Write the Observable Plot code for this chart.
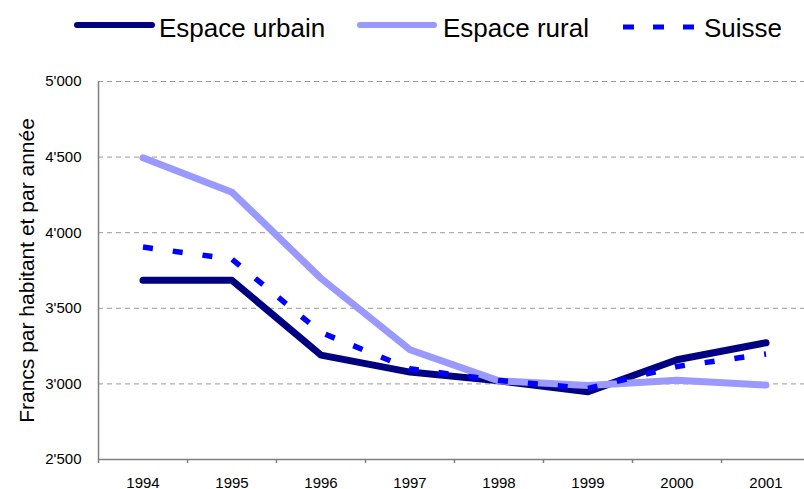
<!DOCTYPE html>
<html>
<head>
<meta charset="utf-8">
<script src="https://cdn.jsdelivr.net/npm/d3@7"></script>
<script src="https://cdn.jsdelivr.net/npm/@observablehq/plot@0.6"></script>
<style>
  html, body { margin: 0; padding: 0; background: #fff; }
  #legend { display: block; }
  #chart svg { display: block; }
</style>
</head>
<body>
<svg id="legend" width="804" height="58" font-family="Liberation Sans, Arial, sans-serif" font-size="26">
  <line x1="77" x2="152" y1="25" y2="25" stroke="#000080" stroke-width="6" stroke-linecap="round"/>
  <text x="159" y="37" fill="#000">Espace urbain</text>
  <line x1="360" x2="434" y1="25" y2="25" stroke="#9999FF" stroke-width="6" stroke-linecap="round"/>
  <text x="443" y="37" fill="#000">Espace rural</text>
  <line x1="623" x2="695" y1="27" y2="27" stroke="#0000FF" stroke-width="5" stroke-dasharray="11,19"/>
  <text x="704" y="37" fill="#000">Suisse</text>
</svg>
<div id="chart"></div>
<script>
const years = [1994, 1995, 1996, 1997, 1998, 1999, 2000, 2001];
const urbain = [3685, 3685, 3190, 3078, 3020, 2948, 3160, 3272];
const rural  = [4495, 4268, 3698, 3226, 3020, 2990, 3024, 2992];
const suisse = [3905, 3825, 3340, 3100, 3022, 2970, 3115, 3198];
const yTicks = [2500, 3000, 3500, 4000, 4500, 5000];
const gridTicks = [3000, 3500, 4000, 4500, 5000];
const yLabel = "Francs par habitant et par année";

const toRows = (vals) => years.map((y, i) => ({year: y, value: vals[i]}));
const boundaries = years.map(y => y - 0.5).concat([years[years.length - 1] + 0.5]);
const fmt = d => d3.format(",")(d).replace(",", "'");

const chart = Plot.plot({
  width: 804,
  height: 431,
  marginLeft: 98,
  marginRight: -6,
  marginTop: 23,
  marginBottom: 30,
  style: {fontFamily: "Liberation Sans, Arial, sans-serif", fontSize: "15px", color: "#000", background: "#fff", overflow: "visible"},
  x: {domain: [boundaries[0], boundaries[boundaries.length - 1]], axis: null},
  y: {domain: [2500, 5000], axis: null},
  marks: [
    Plot.gridY(gridTicks, {stroke: "#9a9a9a", strokeOpacity: 1, strokeDasharray: "5,4"}),
    Plot.ruleX([boundaries[0]], {stroke: "#7f7f7f", strokeWidth: 1.5}),
    Plot.ruleY([2500], {stroke: "#7f7f7f", strokeWidth: 1.5}),
    Plot.axisY({ticks: yTicks, tickSize: 0, tickPadding: 17, tickFormat: fmt, label: yLabel, labelAnchor: "center", labelArrow: "none", labelOffset: 79, fontSize: 15}),
    Plot.axisX({ticks: boundaries, tickSize: 4, stroke: "#7f7f7f", strokeWidth: 1.5, tickFormat: () => "", label: null}),
    Plot.axisX({ticks: years, tickSize: 0, tickPadding: 18, tickFormat: d => String(d), label: null, fontSize: 15}),
    Plot.line(toRows(urbain), {x: "year", y: "value", stroke: "#000080", strokeWidth: 7, strokeLinecap: "round", strokeLinejoin: "round"}),
    Plot.line(toRows(rural), {x: "year", y: "value", stroke: "#9999FF", strokeWidth: 7, strokeLinecap: "round", strokeLinejoin: "round"}),
    Plot.line(toRows(suisse), {x: "year", y: "value", stroke: "#0000FF", strokeWidth: 5.5, strokeDasharray: "10,20", strokeLinecap: "butt"})
  ]
});
document.getElementById("chart").appendChild(chart);
// Font sizes like the reference
chart.querySelectorAll("g[aria-label='y-axis tick label'], g[aria-label='x-axis tick label']").forEach(g => {
  g.setAttribute("font-size", "15");
  g.querySelectorAll("text").forEach(t => t.setAttribute("font-size", "15"));
});
chart.querySelectorAll("g[aria-label='y-axis label'] text").forEach(t => t.setAttribute("font-size", "21"));
</script>
</body>
</html>
